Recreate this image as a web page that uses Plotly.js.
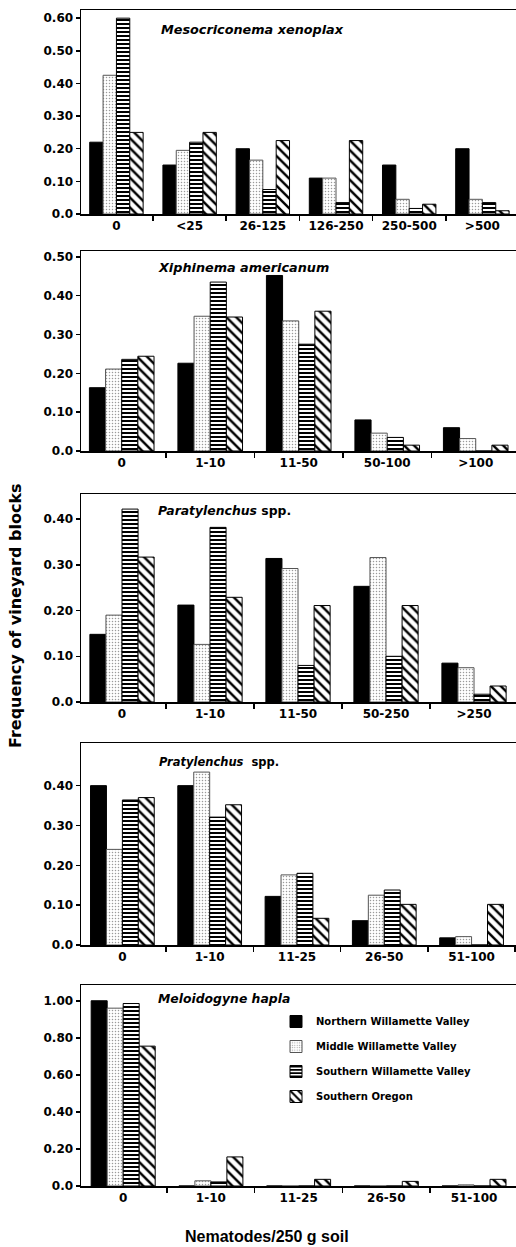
<!DOCTYPE html>
<html>
<head>
<meta charset="utf-8">
<script src="https://cdn.plot.ly/plotly-3.0.1.min.js"></script>
<style>html,body{margin:0;padding:0;background:#fff}#chart{width:516px;height:1247px}</style>
</head>
<body>
<div id="chart"></div>
<script>
// ---------- DATA ----------
const seriesNames = ['Northern Willamette Valley', 'Middle Willamette Valley', 'Southern Willamette Valley', 'Southern Oregon'];

const mesoTitle = '<i>Mesocriconema xenoplax</i>';
const mesoCategories = ['0', '<25', '26-125', '126-250', '250-500', '>500'];
const mesoNorthern = [0.22, 0.15, 0.20, 0.11, 0.15, 0.20];
const mesoMiddle   = [0.425, 0.195, 0.165, 0.11, 0.045, 0.045];
const mesoSouthern = [0.60, 0.22, 0.075, 0.035, 0.017, 0.035];
const mesoOregon   = [0.25, 0.25, 0.225, 0.225, 0.03, 0.01];
const mesoTickVals = [0, 0.1, 0.2, 0.3, 0.4, 0.5, 0.6];
const mesoTickText = ['0.0', '0.10', '0.20', '0.30', '0.40', '0.50', '0.60'];

const xiphTitle = '<i>Xiphinema americanum</i>';
const xiphCategories = ['0', '1-10', '11-50', '50-100', '>100'];
const xiphNorthern = [0.163, 0.226, 0.452, 0.080, 0.060];
const xiphMiddle   = [0.211, 0.347, 0.335, 0.046, 0.032];
const xiphSouthern = [0.236, 0.435, 0.275, 0.035, 0];
const xiphOregon   = [0.244, 0.345, 0.360, 0.015, 0.015];
const xiphTickVals = [0, 0.1, 0.2, 0.3, 0.4, 0.5];
const xiphTickText = ['0.0', '0.10', '0.20', '0.30', '0.40', '0.50'];

const paraTitle = '<i>Paratylenchus</i> spp.';
const paraCategories = ['0', '1-10', '11-50', '50-250', '>250'];
const paraNorthern = [0.148, 0.212, 0.314, 0.253, 0.085];
const paraMiddle   = [0.190, 0.126, 0.292, 0.316, 0.075];
const paraSouthern = [0.422, 0.382, 0.080, 0.100, 0.017];
const paraOregon   = [0.317, 0.229, 0.211, 0.211, 0.035];
const paraTickVals = [0, 0.1, 0.2, 0.3, 0.4];
const paraTickText = ['0.0', '0.10', '0.20', '0.30', '0.40'];

const pratTitle = '<i>Pratylenchus</i>  spp.';
const pratCategories = ['0', '1-10', '11-25', '26-50', '51-100'];
const pratNorthern = [0.40, 0.40, 0.122, 0.061, 0.018];
const pratMiddle   = [0.24, 0.434, 0.176, 0.125, 0.021];
const pratSouthern = [0.364, 0.321, 0.180, 0.138, 0];
const pratOregon   = [0.370, 0.352, 0.067, 0.102, 0.102];
const pratTickVals = [0, 0.1, 0.2, 0.3, 0.4];
const pratTickText = ['0.0', '0.10', '0.20', '0.30', '0.40'];

const meloTitle = '<i>Meloidogyne hapla</i>';
const meloCategories = ['0', '1-10', '11-25', '26-50', '51-100'];
const meloNorthern = [1.00, 0, 0, 0, 0];
const meloMiddle   = [0.96, 0.028, 0, 0, 0.006];
const meloSouthern = [0.985, 0.022, 0, 0, 0];
const meloOregon   = [0.755, 0.157, 0.036, 0.025, 0.036];
const meloTickVals = [0, 0.2, 0.4, 0.6, 0.8, 1.0];
const meloTickText = ['0.0', '0.20', '0.40', '0.60', '0.80', '1.00'];

const xAxisTitle = 'Nematodes/250 g soil';
const yAxisTitle = 'Frequency of vineyard blocks';

// ---------- STYLE / LAYOUT ----------
const panels = [
  {title: mesoTitle, cats: mesoCategories, series: [mesoNorthern, mesoMiddle, mesoSouthern, mesoOregon], tv: mesoTickVals, tt: mesoTickText},
  {title: xiphTitle, cats: xiphCategories, series: [xiphNorthern, xiphMiddle, xiphSouthern, xiphOregon], tv: xiphTickVals, tt: xiphTickText},
  {title: paraTitle, cats: paraCategories, series: [paraNorthern, paraMiddle, paraSouthern, paraOregon], tv: paraTickVals, tt: paraTickText},
  {title: pratTitle, cats: pratCategories, series: [pratNorthern, pratMiddle, pratSouthern, pratOregon], tv: pratTickVals, tt: pratTickText},
  {title: meloTitle, cats: meloCategories, series: [meloNorthern, meloMiddle, meloSouthern, meloOregon], tv: meloTickVals, tt: meloTickText}
];

const W = 516, H = 1247, L = 81;
const geom = [
  {top: 10,  bottom: 214, ymax: 0.625, xr: [-0.484, 5.459], tx: 159, ty: 29,  tsize: 12.8},
  {top: 251, bottom: 451, ymax: 0.515, xr: [-0.46, 4.455],  tx: 156, ty: 267, tsize: 12.8},
  {top: 494, bottom: 702, ymax: 0.455, xr: [-0.466, 4.477], tx: 156, ty: 510, tsize: 12.4},
  {top: 743, bottom: 945, ymax: 0.507, xr: [-0.474, 4.509], tx: 157, ty: 762, tsize: 11.5},
  {top: 985, bottom: 1186, ymax: 1.085, xr: [-0.481, 4.479], tx: 156, ty: 998, tsize: 12.4}
];

const markerStyles = [
  {color: '#000000', line: {color: '#000000', width: 1}},
  {color: '#ffffff', pattern: {shape: '.', fgcolor: '#9a9a9a', bgcolor: '#ffffff', size: 3, solidity: 0.2}, line: {color: '#555555', width: 1}},
  {color: '#ffffff', pattern: {shape: '-', fgcolor: '#000000', bgcolor: '#ffffff', size: 4, solidity: 0.5}, line: {color: '#000000', width: 1}},
  {color: '#ffffff', pattern: {shape: '\\', fgcolor: '#000000', bgcolor: '#ffffff', size: 7, solidity: 0.35}, line: {color: '#000000', width: 1}}
];

const tickFont = {family: 'DejaVu Sans', size: 12, weight: 'bold', color: '#000'};
const traces = [];
const layout = {
  width: W, height: H,
  margin: {l: L, r: 0, t: 0, b: 0, pad: 0},
  paper_bgcolor: '#fff', plot_bgcolor: '#fff',
  bargap: 0.27, bargroupgap: 0, barmode: 'group',
  showlegend: true,
  legend: {
    x: (276 - L) / (W - L), y: 1 - 1007 / H, xanchor: 'left', yanchor: 'top',
    font: {family: 'DejaVu Sans', size: 10, weight: 'bold', color: '#000'},
    bgcolor: 'rgba(0,0,0,0)', tracegroupgap: 6, itemclick: false
  },
  annotations: []
};

panels.forEach((p, i) => {
  const n = i + 1;
  const xa = n === 1 ? 'x' : 'x' + n;
  const ya = n === 1 ? 'y' : 'y' + n;
  const g = geom[i];
  p.series.forEach((vals, s) => {
    traces.push({
      type: 'bar', x: p.cats, y: vals, name: seriesNames[s],
      xaxis: xa, yaxis: ya, marker: markerStyles[s],
      showlegend: n === 5, legendgroup: 'g' + s, hoverinfo: 'skip'
    });
  });
  layout['xaxis' + (n === 1 ? '' : n)] = {
    type: 'category', categoryorder: 'array', categoryarray: p.cats,
    range: g.xr, anchor: ya, domain: [0, 1],
    showline: true, linecolor: '#000', linewidth: 1.5, mirror: true,
    ticks: 'outside', tickson: 'boundaries', ticklen: 5, tickwidth: 1.5, tickcolor: '#000',
    tickfont: tickFont, showgrid: false, zeroline: false, fixedrange: true
  };
  layout['yaxis' + (n === 1 ? '' : n)] = {
    range: [0, g.ymax], anchor: xa,
    domain: [1 - g.bottom / H, 1 - g.top / H],
    tickvals: p.tv, ticktext: p.tt,
    showline: true, linecolor: '#000', linewidth: 1.5,
    ticks: 'outside', ticklen: 4, tickwidth: 1.5, tickcolor: '#000',
    tickfont: tickFont, showgrid: false, zeroline: false, fixedrange: true
  };
  layout.annotations.push({
    xref: 'paper', yref: 'paper', x: (g.tx - L) / (W - L), y: 1 - g.ty / H,
    xanchor: 'left', yanchor: 'middle', showarrow: false, text: p.title,
    font: {family: 'DejaVu Sans', size: g.tsize, weight: 'bold', color: '#000'}
  });
});

layout.annotations.push({
  xref: 'paper', yref: 'paper', x: (267 - L) / (W - L), y: 1 - 1236 / H,
  xanchor: 'center', yanchor: 'middle', showarrow: false, text: xAxisTitle,
  font: {family: 'Liberation Sans', size: 16, weight: 'bold', color: '#000'}
});
layout.annotations.push({
  xref: 'paper', yref: 'paper', x: (15 - L) / (W - L), y: 1 - 616 / H,
  xanchor: 'center', yanchor: 'middle', showarrow: false, text: yAxisTitle, textangle: -90,
  font: {family: 'DejaVu Sans', size: 16, weight: 'bold', color: '#000'}
});

Plotly.newPlot('chart', traces, layout, {displayModeBar: false, staticPlot: true});
</script>
</body>
</html>
